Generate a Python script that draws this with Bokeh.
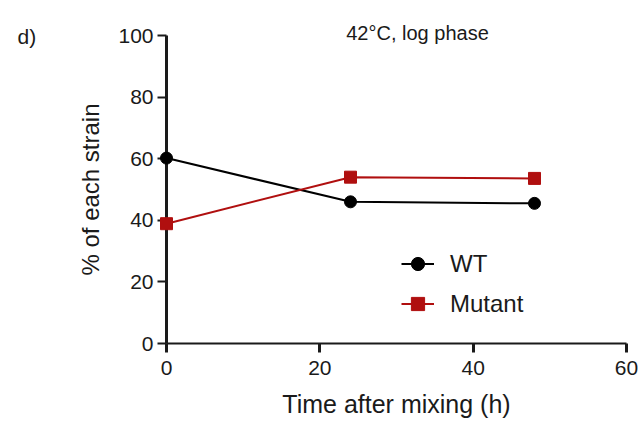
from bokeh.plotting import figure
from bokeh.models import Range1d, Legend, LegendItem, FixedTicker
from bokeh.core.properties import value
from bokeh.embed import file_html
from bokeh.resources import INLINE

# ---- data ----
time_h = [0, 24, 48]
wt = [60.2, 46.0, 45.5]
mutant = [38.9, 54.0, 53.6]
x_ticks = [0, 20, 40, 60]
y_ticks = [0, 20, 40, 60, 80, 100]
title_text = "42°C, log phase"
panel_text = "d)"
x_label = "Time after mixing (h)"
y_label = "% of each strain"
series_names = ["WT", "Mutant"]

FONT = "Liberation Sans"
TXT = "#1a1a1a"
RED = "#B00F0F"

p = figure(width=640, height=421, output_backend="svg", toolbar_location=None,
           x_range=Range1d(x_ticks[0], x_ticks[-1]), y_range=Range1d(y_ticks[0], y_ticks[-1]),
           min_border_left=166, min_border_right=14, min_border_top=35, min_border_bottom=78)
p.outline_line_color = None
p.grid.visible = False
p.background_fill_color = "white"
p.border_fill_color = "white"

for ax in (p.xaxis[0], p.yaxis[0]):
    ax.axis_line_color = TXT
    ax.major_tick_line_color = TXT
    ax.minor_tick_line_color = None
    ax.major_tick_in = 0
    ax.major_tick_out = 9
    ax.major_label_text_font = FONT
    ax.major_label_text_font_size = "21px"
    ax.major_label_text_color = TXT
    ax.axis_label_text_font = FONT
    ax.axis_label_text_font_style = "normal"
    ax.axis_label_text_color = TXT

p.xaxis.ticker = FixedTicker(ticks=x_ticks)
p.yaxis.ticker = FixedTicker(ticks=y_ticks)
p.xaxis.axis_line_width = 2
p.xaxis.major_tick_line_width = 3
p.yaxis.axis_line_width = 3
p.yaxis.major_tick_line_width = 2
p.xaxis.major_label_standoff = 8
p.yaxis.major_label_standoff = 4
p.xaxis.axis_label = x_label
p.yaxis.axis_label = y_label
p.xaxis.axis_label_text_font_size = "25px"
p.yaxis.axis_label_text_font_size = "24px"
p.xaxis.axis_label_standoff = 12
p.yaxis.axis_label_standoff = 11

l1 = p.line(time_h, wt, line_color="black", line_width=2, level="overlay")
s1 = p.scatter(time_h, wt, marker="circle", size=12, fill_color="black", line_color="black",
               level="overlay")
l2 = p.line(time_h, mutant, line_color=RED, line_width=2, level="overlay")
s2 = p.scatter(time_h, mutant, marker="square", size=12, fill_color=RED, line_color=RED,
               level="overlay")

legend = Legend(items=[LegendItem(label=series_names[0], renderers=[l1, s1]),
                       LegendItem(label=series_names[1], renderers=[l2, s2])],
                location=(235, 21), orientation="vertical")
legend.border_line_color = None
legend.background_fill_alpha = 0
legend.margin = 0
legend.padding = 0
legend.spacing = 3
legend.glyph_width = 33
legend.glyph_height = 37
legend.label_height = 37
legend.label_standoff = 16
legend.label_text_font = FONT
legend.label_text_font_size = "24px"
legend.label_text_color = TXT
p.add_layout(legend, "center")

# texts anchored at the top of the y axis, offset in pixels (overlay level is not clipped)
p.text(x=[x_ticks[0]], y=[y_ticks[-1]], text=[title_text], x_offset=251, y_offset=-3,
       text_font=value(FONT), text_font_size="20px", text_color=TXT,
       text_align="center", text_baseline="alphabetic", level="overlay")
p.text(x=[x_ticks[0]], y=[y_ticks[-1]], text=[panel_text], x_offset=-149, y_offset=1,
       text_font=value(FONT), text_font_size="21px", text_color=TXT,
       text_align="left", text_baseline="alphabetic", level="overlay")

open("out.html", "w").write(file_html(p, INLINE))
